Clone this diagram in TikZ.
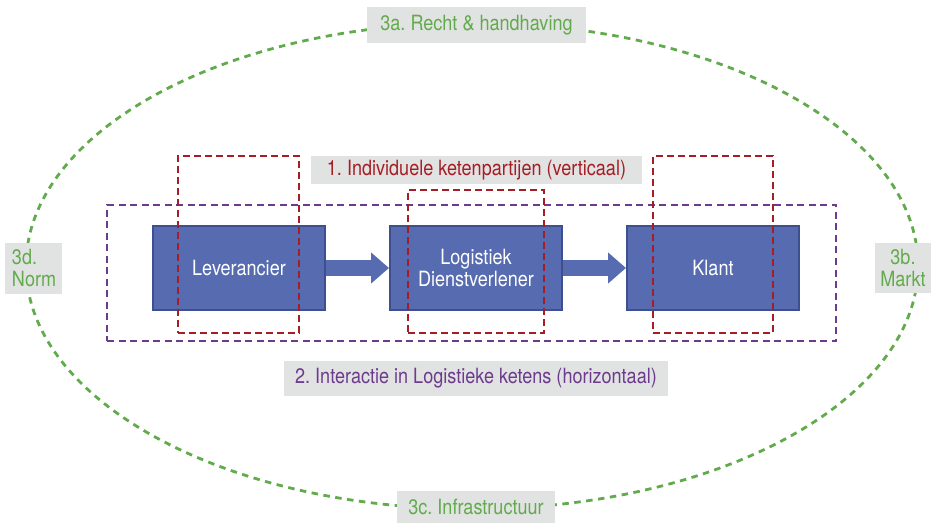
\documentclass[tikz,border=0pt]{standalone}
\usepackage{fontspec}
\setmainfont[FakeStretch=0.86]{TeX Gyre Heros}
\usetikzlibrary{arrows.meta}
\frenchspacing

\definecolor{boxblue}{HTML}{566BB0}
\definecolor{boxedge}{HTML}{3E4F90}
\definecolor{chainred}{HTML}{A61E25}
\definecolor{chainpurple}{HTML}{6D3B8D}
\definecolor{envgreen}{HTML}{62AB4C}
\definecolor{labelgray}{HTML}{E1E2E2}

\tikzset{
  party/.style={draw=boxedge, line width=2pt, fill=boxblue, text=white,
    minimum width=172pt, minimum height=84pt, inner sep=0pt, align=center,
    font=\fontsize{21}{21.5}\selectfont},
  flow/.style={boxblue, line width=16pt,
    -{Triangle[width=30pt,length=18pt]}},
  vframe/.style={draw=chainred, line width=2.5pt, dash pattern=on 7pt off 4pt,
    inner sep=0pt},
  hframe/.style={draw=chainpurple, line width=2.5pt, dash pattern=on 7pt off 4.5pt,
    inner sep=0pt},
  envring/.style={draw=envgreen, line width=2.8pt, dash pattern=on 6.5pt off 5.5pt},
  tag/.style={fill=labelgray, inner sep=0pt,
    font=\fontsize{21}{22}\selectfont\frenchspacing},
}

\begin{document}
\begin{tikzpicture}[x=1pt, y=-1pt]
  \useasboundingbox (0,0) rectangle (935,524);

  % environment ring
  \draw[envring] (472,266) ellipse [x radius=446, y radius=243];

  % horizontal chain frame
  \node[hframe, minimum width=729pt, minimum height=136pt] (chain) at (471.5,273) {};

  % chain parties
  \node[party] (lev) at (239,268) {Leverancier};
  \node[party] (lsp) at (476,268) {Logistiek\\Dienstverlener};
  \node[party] (klant) at (713,268) {Klant};

  \draw[flow] (lev.east) -- (lsp.west);
  \draw[flow] (lsp.east) -- (klant.west);

  % vertical frames around each party
  \node[vframe, minimum width=121pt, minimum height=177pt] (vlev) at (238.5,244.5) {};
  \node[vframe, minimum width=136pt, minimum height=143pt] (vlsp) at (476,261.5) {};
  \node[vframe, minimum width=120pt, minimum height=177pt] (vklant) at (713,244.5) {};

  % labels
  \node[tag, text=chainred, minimum width=331pt, minimum height=28pt] (lbl1) at (476.5,170)
    {1. Individuele ketenpartijen (verticaal)};
  \node[tag, text=chainpurple, minimum width=384pt, minimum height=35pt] (lbl2) at (476,378.5)
    {2. Interactie in Logistieke ketens (horizontaal)};
  \node[tag, text=envgreen, minimum width=219pt, minimum height=36pt] (lbl3a) at (476.5,25)
    {3a. Recht \& handhaving};
  \node[tag, text=envgreen, minimum width=56pt, minimum height=50pt, align=center] (lbl3b)
    at (903,268) {3b.\\Markt};
  \node[tag, text=envgreen, minimum width=57pt, minimum height=51pt, align=left,
    inner xsep=7pt, text width=43pt] (lbl3d) at (33.5,268.5) {3d.\\Norm};
  \node[tag, text=envgreen, minimum width=158pt, minimum height=32pt] (lbl3c) at (476,507)
    {3c. Infrastructuur};
\end{tikzpicture}
\end{document}
